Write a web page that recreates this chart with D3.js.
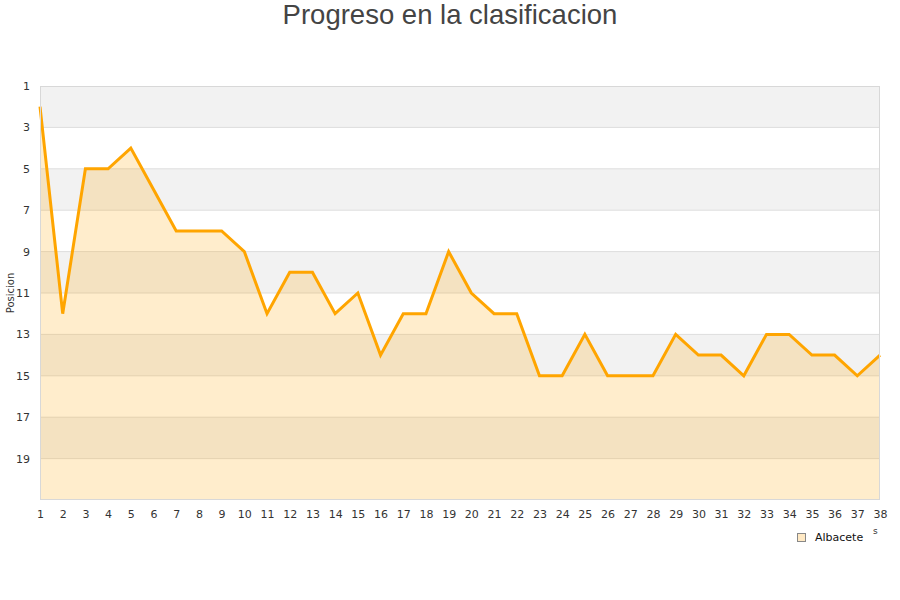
<!DOCTYPE html>
<html>
<head>
<meta charset="utf-8">
<script src="https://cdn.jsdelivr.net/npm/d3@7"></script>
<style>
  body { margin: 0; background: #fff; }
</style>
</head>
<body>
<script>
// matchdays and league position for each
const jornadas = d3.range(1, 39);
const posiciones = [2, 12, 5, 5, 4, 6, 8, 8, 8, 9, 12, 10, 10, 12, 11, 14, 12, 12, 9, 11,
                    12, 12, 15, 15, 13, 15, 15, 15, 13, 14, 14, 15, 13, 13, 14, 14, 15, 14];
const yTicks = [1, 3, 5, 7, 9, 11, 13, 15, 17, 19];
const equipo = 'Albacete';
const titulo = 'Progreso en la clasificacion';

const data = jornadas.map((j, i) => ({ j: j, pos: posiciones[i] }));

const width = 900, height = 600;
const margin = { top: 86, right: 20, bottom: 100, left: 40 };

const svg = d3.select('body').append('svg')
  .attr('width', width)
  .attr('height', height);

const xScale = d3.scaleLinear()
  .domain([1, 38])
  .range([margin.left, width - margin.right]);

const yScale = d3.scaleLinear()
  .domain([1, 21])
  .range([margin.top, height - margin.bottom]);

// alternating bands
const bands = d3.range(1, 21, 2);
svg.append('g')
  .selectAll('rect')
  .data(bands)
  .join('rect')
  .attr('x', margin.left)
  .attr('y', d => yScale(d))
  .attr('width', xScale(38) - xScale(1))
  .attr('height', d => yScale(d + 2) - yScale(d))
  .attr('fill', (d, i) => i % 2 == 0 ? '#f2f2f2' : '#ffffff');

// grid lines
svg.append('g')
  .selectAll('line')
  .data(yTicks.slice(1))
  .join('line')
  .attr('x1', margin.left)
  .attr('x2', xScale(38))
  .attr('y1', d => yScale(d))
  .attr('y2', d => yScale(d))
  .attr('stroke', '#dddddd')
  .attr('stroke-width', 1);

// area under the line
const area = d3.area()
  .x(d => xScale(d.j))
  .y0(yScale(21))
  .y1(d => yScale(d.pos));

svg.append('path')
  .datum(data)
  .attr('d', area)
  .attr('fill', '#ffa500')
  .attr('fill-opacity', 0.2);

const line = d3.line()
  .x(d => xScale(d.j))
  .y(d => yScale(d.pos));

svg.append('path')
  .datum(data)
  .attr('d', line)
  .attr('fill', 'none')
  .attr('stroke', '#ffa500')
  .attr('stroke-width', 3)
  .attr('stroke-linejoin', 'miter');

// plot border
svg.append('rect')
  .attr('x', margin.left + 0.5)
  .attr('y', margin.top + 0.5)
  .attr('width', xScale(38) - xScale(1) - 1)
  .attr('height', yScale(21) - yScale(1) - 1)
  .attr('fill', 'none')
  .attr('stroke', '#d8d8d8');

// y axis labels
const yAxis = d3.axisLeft(yScale).tickValues(yTicks).tickSize(0).tickPadding(10);
svg.append('g')
  .attr('transform', `translate(${margin.left},0)`)
  .call(yAxis)
  .call(g => g.select('.domain').remove())
  .selectAll('text')
  .style('font-family', 'DejaVu Sans')
  .style('font-size', '11px')
  .attr('fill', '#333');

// x axis labels
const xAxis = d3.axisBottom(xScale).tickValues(jornadas).tickSize(0).tickPadding(10);
svg.append('g')
  .attr('transform', `translate(0,${yScale(21)})`)
  .call(xAxis)
  .call(g => g.select('.domain').remove())
  .selectAll('text')
  .style('font-family', 'DejaVu Sans')
  .style('font-size', '11px')
  .attr('fill', '#333');

// y axis title
svg.append('text')
  .attr('transform', `translate(14,${(yScale(1) + yScale(21)) / 2}) rotate(-90)`)
  .attr('text-anchor', 'middle')
  .style('font-family', 'DejaVu Sans')
  .style('font-size', '10px')
  .attr('fill', '#333')
  .text('Posicion');

// clipped x axis title leftover
svg.append('text')
  .attr('x', 873)
  .attr('y', 534)
  .style('font-family', 'DejaVu Sans')
  .style('font-size', '9px')
  .attr('fill', '#333')
  .text('s');

// legend
svg.append('rect')
  .attr('x', 797.5)
  .attr('y', 533.5)
  .attr('width', 8)
  .attr('height', 8)
  .attr('fill', '#ffe9c4')
  .attr('stroke', '#888');

svg.append('text')
  .attr('x', 815)
  .attr('y', 541)
  .style('font-family', 'DejaVu Sans')
  .style('font-size', '11px')
  .attr('fill', '#111')
  .text(equipo);

// title
svg.append('text')
  .attr('x', width / 2)
  .attr('y', 24)
  .attr('text-anchor', 'middle')
  .style('font-family', 'Liberation Sans')
  .style('font-size', '27.5px')
  .attr('fill', '#444')
  .text(titulo);
</script>
</body>
</html>
